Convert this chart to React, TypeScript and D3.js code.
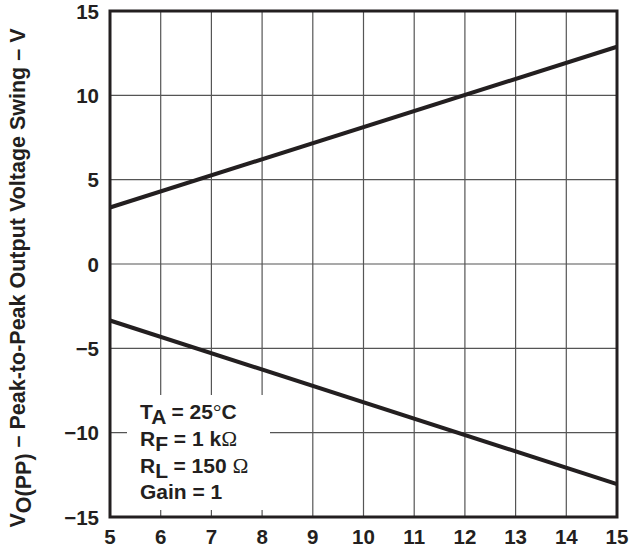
import * as d3 from "d3";
import React, { useEffect, useRef } from "react";

// supply voltage (x) vs output swing (y)
const supplyV = [5, 15];
const swingPos = [3.35, 12.88];
const swingNeg = [-3.35, -13.05];
const xTicks = [5, 6, 7, 8, 9, 10, 11, 12, 13, 14, 15];
const yTicks = [-15, -10, -5, 0, 5, 10, 15];

const W = 632, H = 552;
const margin = { top: 11, right: 15, bottom: 35, left: 110 };

const App = () => {
  const ref = useRef<SVGSVGElement>(null);

  useEffect(() => {
    const svg = d3.select(ref.current);
    svg.selectAll("*").remove();
    const font = "'Liberation Sans', Arial, sans-serif";
    const serif = "'Liberation Serif', 'Times New Roman', serif";

    const x = d3.scaleLinear().domain([5, 15]).range([margin.left, W - margin.right]);
    const y = d3.scaleLinear().domain([-15, 15]).range([H - margin.bottom, margin.top]);

    const g = svg.append("g");

    // grid
    g.selectAll("line.vg")
      .data(xTicks)
      .enter()
      .append("line")
      .attr("x1", (d) => x(d)).attr("x2", (d) => x(d))
      .attr("y1", y(-15)).attr("y2", y(15))
      .attr("stroke", "#555").attr("stroke-width", 1.2);
    g.selectAll("line.hg")
      .data(yTicks)
      .enter()
      .append("line")
      .attr("x1", x(5)).attr("x2", x(15))
      .attr("y1", (d) => y(d)).attr("y2", (d) => y(d))
      .attr("stroke", "#555").attr("stroke-width", 1.2);

    // legend backing
    g.append("rect")
      .attr("x", 127).attr("y", 395).attr("width", 143).attr("height", 115)
      .attr("fill", "white");

    // curves
    const line = d3.line<number>().x((_, i) => x(supplyV[i])).y((d) => y(d));
    [swingPos, swingNeg].forEach((s) => {
      g.append("path")
        .attr("d", line(s))
        .attr("fill", "none")
        .attr("stroke", "#231f20")
        .attr("stroke-width", 4);
    });

    // frame
    g.append("rect")
      .attr("x", x(5)).attr("y", y(15))
      .attr("width", x(15) - x(5)).attr("height", y(-15) - y(15))
      .attr("fill", "none").attr("stroke", "#231f20").attr("stroke-width", 3);

    // tick labels
    g.selectAll("text.xt")
      .data(xTicks)
      .enter()
      .append("text")
      .attr("x", (d) => x(d)).attr("y", 544)
      .attr("text-anchor", "middle")
      .attr("font-family", font).attr("font-weight", "bold").attr("font-size", 20.5)
      .attr("fill", "#231f20")
      .text((d) => d);
    g.selectAll("text.yt")
      .data(yTicks)
      .enter()
      .append("text")
      .attr("x", 99).attr("y", (d) => y(d) + 7.5)
      .attr("text-anchor", "end")
      .attr("font-family", font).attr("font-weight", "bold").attr("font-size", 20.5)
      .attr("fill", "#231f20")
      .text((d) => (d < 0 ? "\u2212" + Math.abs(d) : String(d)));

    // y title
    const yt = g.append("text")
      .attr("transform", `translate(25,${(28 + 528) / 2}) rotate(-90)`)
      .attr("text-anchor", "middle")
      .attr("font-family", font).attr("font-weight", "bold").attr("font-size", 21.5)
      .attr("fill", "#231f20");
    yt.append("tspan").text("V");
    yt.append("tspan").attr("dy", 6).text("O(PP)");
    yt.append("tspan").attr("dy", -6).text(" \u2013 Peak-to-Peak Output Voltage Swing \u2013 V");

    // conditions
    const conds: [string, string, string, string][] = [
      ["T", "A", " = 25", "\u00B0"],
      ["R", "F", " = 1 k", "\u2126"],
      ["R", "L", " = 150 ", "\u2126"],
      ["Gain = 1", "", "", ""],
    ];
    conds.forEach((c, i) => {
      const t = g.append("text")
        .attr("x", 140).attr("y", 419 + i * 26.8)
        .attr("font-family", font).attr("font-weight", "bold").attr("font-size", 21)
        .attr("fill", "#231f20");
      t.append("tspan").text(c[0]);
      if (c[1]) {
        t.append("tspan").attr("dy", 5).text(c[1]);
        t.append("tspan").attr("dy", -5).text(c[2]);
        t.append("tspan").attr("font-family", serif).attr("font-weight", "normal").text(c[3]);
        if (c[3] === "\u00B0") t.append("tspan").text("C");
      }
    });
  }, []);

  return (
    <svg
      ref={ref}
      width={W}
      height={H}
      style={{ position: "absolute", left: 0, top: 0 }}
    />
  );
};

export default App;
